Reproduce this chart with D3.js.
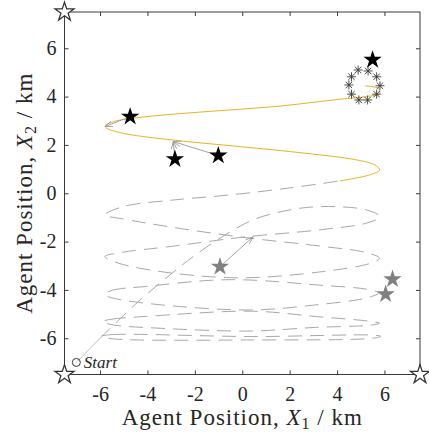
<!DOCTYPE html>
<html><head><meta charset="utf-8">
<script src="https://cdn.jsdelivr.net/npm/d3@7"></script>
<style>
html,body{margin:0;padding:0;background:#fff;}
svg{display:block;}
svg text{font-family:"Liberation Serif","Times New Roman",serif !important;fill:#262626;}
</style></head>
<body>
<svg id="c" width="429" height="436"></svg>
<script>
// ---- data ----
const xTicks = [-6, -4, -2, 0, 2, 4, 6];
const yTicks = [-6, -4, -2, 0, 2, 4, 6];
const startPoint = [-7, -7];
const startLeg = [[-7, -7], [-6, -6]];
// gray dashed sweep: diagonal, ellipse 1/2 and the climb to the solid part
const dashedPath = [
  [-6, -6], [-4.38, -4.48], [-3.05, -3.38], [-2.07, -2.62], [-0.94, -1.86], [0.46, -1.1],
  [2.0, -0.69], [3.4, -0.55], [5.25, -0.69], [5.8, -0.97],
  [5.3, -1.22], [3.4, -1.5], [0, -1.82], [-3.0, -2.2], [-5.1, -2.45], [-5.8, -2.62],
  [-5.2, -2.9], [-3.0, -3.3], [0, -3.5], [3.4, -3.24], [5.4, -2.9], [5.8, -2.69],
  [5.2, -2.45], [3.4, -2.2], [0, -1.82], [-3.0, -1.4], [-5.1, -1.05], [-5.8, -0.9],
  [-5.02, -0.55], [-2.91, -0.28], [-0.52, -0.07], [2.0, 0.22], [4.12, 0.51]
];
const loop3 = [[-5.8, -4.2], [-5.5, -4.02], [-4.1, -3.86], [-1.3, -3.6], [0.3, -3.59], [3.1, -3.79],
  [5.3, -3.98], [5.75, -4.12], [5.3, -4.32], [3.1, -4.62], [0.4, -4.83], [-3.4, -4.62], [-5.4, -4.35]];
const loop4 = [[-5.9, -5.31], [-5.5, -5.21], [-4.1, -5.1], [0.4, -4.88], [3.1, -5.1], [5.4, -5.3],
  [5.8, -5.38], [5.4, -5.46], [3.1, -5.55], [0.4, -5.7], [-3.4, -5.59], [-5.5, -5.44]];
const loop5 = [[-5.95, -5.92], [-5.5, -5.85], [0.5, -5.93], [5.5, -5.87], [5.85, -5.92], [5.5, -6.0],
  [0.5, -6.07], [-5.5, -6.02]];
const orangePath = [
  [4.12, 0.51], [5.38, 0.76], [5.8, 0.96], [5.6, 1.17], [4.82, 1.38], [2.71, 1.65], [-0.1, 1.93],
  [-2.91, 2.2], [-5.02, 2.48], [-5.72, 2.69], [-5.79, 2.78], [-5.44, 2.96], [-4.31, 3.14],
  [-1.5, 3.38], [1.31, 3.58], [4.12, 3.89], [5.24, 4.0], [5.8, 4.14], [5.74, 4.34], [5.17, 4.44]
];
const asterisks = [[4.89, 5.1], [5.31, 5.06], [4.61, 4.82], [5.67, 4.82], [4.5, 4.48], [5.81, 4.45],
  [4.61, 4.1], [5.67, 4.1], [4.92, 3.86], [5.29, 3.86]];
const blackStars = [[-4.73, 3.17], [-2.84, 1.41], [-1.01, 1.56], [5.5, 5.52]];
const grayStars = [[-0.94, -3.04], [6.34, -3.56], [6.05, -4.18]];
const hollowStars = [[-7.5, 7.5], [-7.5, -7.5], [7.5, -7.5]];
const arrowFrom = [[-4.73, 3.17], [-2.84, 1.41], [-1.01, 1.56], [-0.94, -3.04]];
const arrowTo = [[-5.79, 2.76], [-2.91, 2.14], [-2.91, 2.14], [0.46, -1.8]];
const startLabel = "Start";

// ---- layout ----
const FONT = '"Liberation Serif", "Times New Roman", serif';
const svg = d3.select("#c");
const L = 64.5, R = 420, T = 12, B = 374.5;
const x = d3.scaleLinear().domain([-7.5, 7.5]).range([L, R]);
const y = d3.scaleLinear().domain([-7.5, 7.5]).range([B, T]);
const axisCol = "#3a3a3a";

// axes
const gx = svg.append("g").attr("transform", `translate(0,${B})`)
  .call(d3.axisBottom(x).tickValues(xTicks).tickSizeInner(-4).tickSizeOuter(0).tickPadding(12).tickFormat(d3.format("d")));
const gxt = svg.append("g").attr("transform", `translate(0,${T})`)
  .call(d3.axisTop(x).tickValues(xTicks).tickSizeInner(-4).tickSizeOuter(0).tickFormat(""));
const gy = svg.append("g").attr("transform", `translate(${L},0)`)
  .call(d3.axisLeft(y).tickValues(yTicks).tickSizeInner(-4).tickSizeOuter(0).tickPadding(8).tickFormat(d3.format("d")));
const gyr = svg.append("g").attr("transform", `translate(${R},0)`)
  .call(d3.axisRight(y).tickValues(yTicks).tickSizeInner(-4).tickSizeOuter(0).tickFormat(""));
[gx, gxt, gy, gyr].forEach(g => {
  g.attr("font-family", null).attr("font-size", null);
  g.select(".domain").remove();
  g.selectAll("line").attr("stroke", axisCol);
  g.selectAll("text").style("font-family", FONT).style("font-size", "20px").attr("fill", "#262626")
    .text(function(){ return this.textContent.replace("\u2212", "-"); });
});
svg.append("rect").attr("x", L).attr("y", T).attr("width", R - L).attr("height", B - T)
  .attr("fill", "none").attr("stroke", axisCol).attr("stroke-width", 1);

const plot = svg.append("g");
const line = d3.line().x(d => x(d[0])).y(d => y(d[1])).curve(d3.curveCatmullRom.alpha(0.5));
const lineClosed = d3.line().x(d => x(d[0])).y(d => y(d[1])).curve(d3.curveCatmullRomClosed.alpha(0.5));
const dashCol = "#a8a8a8";

plot.append("path").attr("d", d3.line().x(d => x(d[0])).y(d => y(d[1]))(startLeg))
  .attr("fill", "none").attr("stroke", "#b0b0b0").attr("stroke-width", 0.8);
plot.append("path").attr("d", line(dashedPath)).attr("fill", "none")
  .attr("stroke", dashCol).attr("stroke-width", 1).attr("stroke-dasharray", "14,8");
[loop3, loop4, loop5].forEach(lp => {
  plot.append("path").attr("d", lineClosed(lp)).attr("fill", "none")
    .attr("stroke", dashCol).attr("stroke-width", 1).attr("stroke-dasharray", "14,8");
});
plot.append("path").attr("d", line(orangePath)).attr("fill", "none")
  .attr("stroke", "#EDB120").attr("stroke-width", 1);

// asterisks
const ast = plot.selectAll("g.ast").data(asterisks).enter().append("g")
  .attr("transform", d => `translate(${x(d[0])},${y(d[1])})`);
[0, 45, 90, 135].forEach(a => {
  ast.append("line").attr("x1", -4.5).attr("x2", 4.5).attr("y1", 0).attr("y2", 0)
    .attr("transform", `rotate(${a})`).attr("stroke", "#3a3a3a").attr("stroke-width", 0.9);
});

// arrows
arrowFrom.forEach((f, i) => {
  const t = arrowTo[i];
  const x1 = x(f[0]), y1 = y(f[1]), x2 = x(t[0]), y2 = y(t[1]);
  const ang = Math.atan2(y2 - y1, x2 - x1), hl = 8, ha = 0.35;
  plot.append("line").attr("x1", x1).attr("y1", y1).attr("x2", x2).attr("y2", y2)
    .attr("stroke", "#999").attr("stroke-width", 0.9);
  [ha, -ha].forEach(s => {
    plot.append("line").attr("x1", x2).attr("y1", y2)
      .attr("x2", x2 - hl * Math.cos(ang + s)).attr("y2", y2 - hl * Math.sin(ang + s))
      .attr("stroke", "#999").attr("stroke-width", 0.9);
  });
});

// stars
const starSym = d3.symbol().type(d3.symbolStar);
plot.selectAll("path.bs").data(blackStars).enter().append("path")
  .attr("d", starSym.size(105)()).attr("transform", d => `translate(${x(d[0])},${y(d[1])})`)
  .attr("fill", "#000");
plot.selectAll("path.gs").data(grayStars).enter().append("path")
  .attr("d", starSym.size(105)()).attr("transform", d => `translate(${x(d[0])},${y(d[1])})`)
  .attr("fill", "#808080");
svg.selectAll("path.hs").data(hollowStars).enter().append("path")
  .attr("d", d3.symbol().type(d3.symbolStar).size(110)()).attr("transform", d => `translate(${x(d[0])},${y(d[1])})`)
  .attr("fill", "#fff").attr("stroke", "#333").attr("stroke-width", 1.3);

// start marker
plot.append("circle").attr("cx", x(startPoint[0])).attr("cy", y(startPoint[1])).attr("r", 4)
  .attr("fill", "none").attr("stroke", "#222").attr("stroke-width", 0.9);
plot.append("text").attr("x", x(startPoint[0]) + 7.5).attr("y", y(startPoint[1]) + 5.5)
  .style("font-family", FONT).style("font-style", "italic").style("font-size", "17px").text(startLabel);

// axis labels
function axisLabel(sel, sub) {
  sel.style("font-family", FONT).style("font-size", "23px").style("letter-spacing", "1px");
  sel.append("tspan").text("Agent Position, ");
  sel.append("tspan").style("font-style", "italic").text("X");
  sel.append("tspan").style("font-size", "16px").attr("dy", 4).text(sub);
  sel.append("tspan").attr("dy", -4).text(" / km");
}
const xl = svg.append("text").attr("x", (L + R) / 2).attr("y", 425).attr("text-anchor", "middle");
axisLabel(xl, "1");
const yl = svg.append("text").attr("transform", `translate(32,${(T + B) / 2}) rotate(-90)`)
  .attr("text-anchor", "middle");
axisLabel(yl, "2");
</script>
</body></html>
